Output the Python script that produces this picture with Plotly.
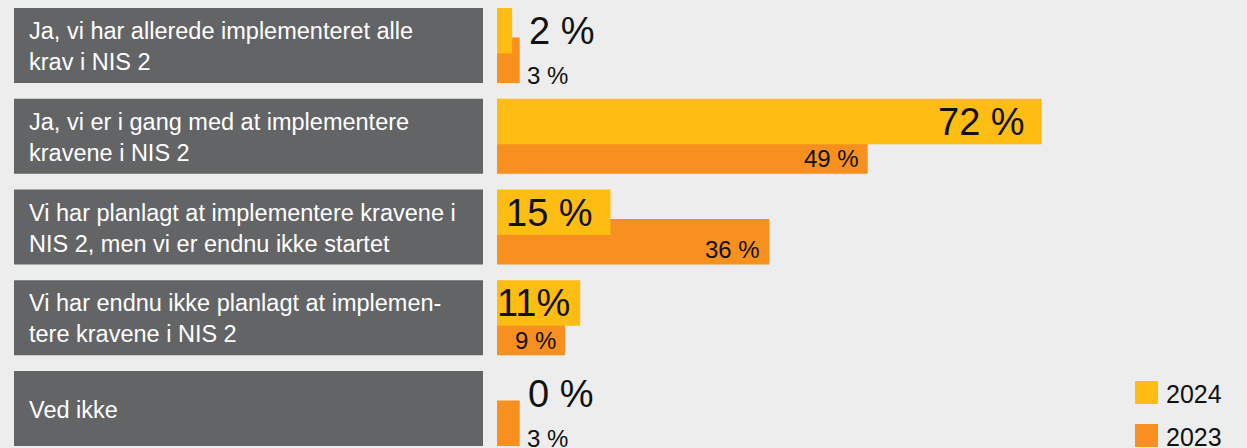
import plotly.graph_objects as go

# ---------------- data ----------------
categories = [
    "Ja, vi har allerede implementeret alle<br>krav i NIS 2",
    "Ja, vi er i gang med at implementere<br>kravene i NIS 2",
    "Vi har planlagt at implementere kravene i<br>NIS 2, men vi er endnu ikke startet",
    "Vi har endnu ikke planlagt at implemen-<br>tere kravene i NIS 2",
    "Ved ikke",
]
values_2024 = [2, 72, 15, 11, 0]
values_2023 = [3, 49, 36, 9, 3]
labels_2024 = ["2 %", "72 %", "15 %", "11%", "0 %"]
labels_2023 = ["3 %", "49 %", "36 %", "9 %", "3 %"]
series_names = ["2024", "2023"]

# ---------------- styling / geometry ----------------
W, H = 1247, 448
BG = "#ECEDEC"
BOX = "#636466"
YELLOW = "#FDBD12"
ORANGE = "#F7901E"
TXT = "#111111"
FONT = "Liberation Sans, Arial, Helvetica, sans-serif"

ROW = 90.75          # px per category
C0 = 45.5            # px of first row centre
X0PX = 497           # px of 0 %
PXPCT = 7.565        # px per percent

pos = list(range(len(categories)))
u = lambda px: px / ROW  # px -> y data units

fig = go.Figure()

# 2023 (behind)
fig.add_trace(go.Bar(
    y=pos, x=values_2023, orientation="h", name=series_names[1],
    marker=dict(color=ORANGE, line=dict(width=0)),
    offset=u(37.5 - 45.5), width=u(45.5), showlegend=False, hoverinfo="skip",
))
# 2024 (front)
fig.add_trace(go.Bar(
    y=pos, x=values_2024, orientation="h", name=series_names[0],
    marker=dict(color=YELLOW, line=dict(width=0)),
    offset=u(-37.5), width=u(45.5), showlegend=False, hoverinfo="skip",
))

shapes = []
annotations = []
for i, cat in enumerate(categories):
    shapes.append(dict(type="rect", xref="paper", yref="y",
                       x0=14 / W, x1=483 / W, y0=i - u(37.5), y1=i + u(37.5),
                       fillcolor=BOX, line=dict(width=0), layer="below"))
    annotations.append(dict(xref="paper", yref="y", x=29 / W, y=i + u(1),
                            xanchor="left", yanchor="middle", align="left",
                            text=cat, showarrow=False, borderpad=0, borderwidth=0,
                            font=dict(family=FONT, size=23.5, color="#FFFFFF")))

# value labels 2024
for i, (v, t) in enumerate(zip(values_2024, labels_2024)):
    inside = v >= 5
    if inside:
        shift = -17 if v > 12 else -10
        anc = "right"
    else:
        shift = 17 if v > 0 else 31
        anc = "left"
    annotations.append(dict(xref="x", yref="y", x=v, y=i - u(14.5), xshift=shift,
                            xanchor=anc, yanchor="middle", text=t, showarrow=False,
                            borderpad=0, borderwidth=0,
                            font=dict(family=FONT, size=38, color=TXT)))

# value labels 2023
for i, (v, t) in enumerate(zip(values_2023, labels_2023)):
    inside = v >= 5
    if inside:
        shift, anc, dy = -9, "right", 22.7
    else:
        shift, anc, dy = 7, "left", 29.5
    annotations.append(dict(xref="x", yref="y", x=v, y=i + u(dy), xshift=shift,
                            xanchor=anc, yanchor="middle", text=t, showarrow=False,
                            borderpad=0, borderwidth=0,
                            font=dict(family=FONT, size=24, color=TXT)))

# custom legend
for k, (name, col, cy) in enumerate(zip(series_names, [YELLOW, ORANGE], [392.5, 435.5])):
    shapes.append(dict(type="rect", xref="paper", yref="paper",
                       x0=1135 / W, x1=1158 / W,
                       y0=1 - (cy + 11.5) / H, y1=1 - (cy - 11.5) / H,
                       fillcolor=col, line=dict(width=0)))
    annotations.append(dict(xref="paper", yref="paper", x=1166 / W, y=1 - (cy + 1) / H,
                            xanchor="left", yanchor="middle", text=name, showarrow=False,
                            borderpad=0, borderwidth=0,
                            font=dict(family=FONT, size=25, color=TXT)))

fig.update_layout(
    width=W, height=H,
    margin=dict(l=0, r=0, t=0, b=0, pad=0),
    paper_bgcolor=BG, plot_bgcolor=BG,
    barmode="overlay",
    showlegend=False,
    shapes=shapes, annotations=annotations,
    xaxis=dict(range=[-X0PX / PXPCT, (W - X0PX) / PXPCT], visible=False, fixedrange=True),
    yaxis=dict(range=[(H - C0) / ROW, -C0 / ROW], visible=False, fixedrange=True),
)

fig.write_html("out.html", config={"displayModeBar": False},
               post_script="document.body.style.margin='0';document.body.style.overflow='hidden';")
